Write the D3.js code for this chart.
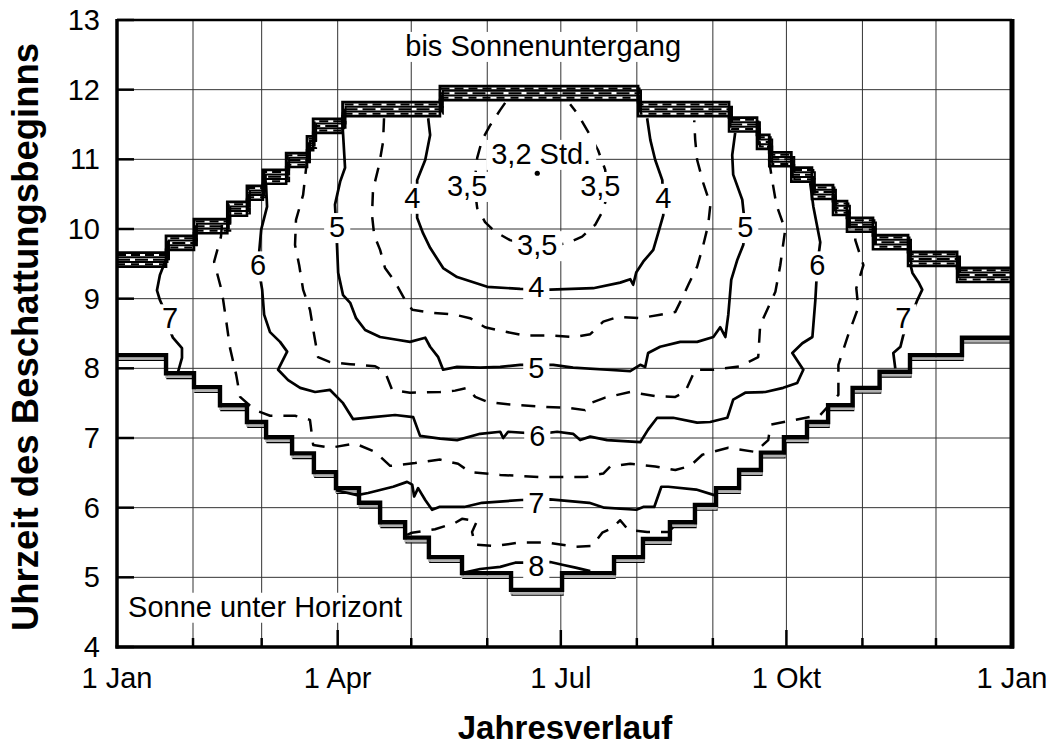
<!DOCTYPE html>
<meta charset="utf-8">
<html>
<style>
  body { margin: 0; background: #fff; }
  text { font-family: "Liberation Sans", Arial, sans-serif; fill: #000; }
  .grid line { stroke: #333; stroke-width: 1; }
  .iso { fill: none; stroke: #000; stroke-width: 2.7; stroke-linejoin: round; }
  .iso.dash { stroke-width: 2.5; stroke-dasharray: 14,11; }
</style>
<body>
<svg width="1054" height="751"></svg>
<script src="https://d3js.org/d3.v7.min.js"></script>
<script>
// month starts (day of year) and axis ticks
var monthStarts = [0, 31, 59, 90, 120, 151, 181, 212, 243, 273, 304, 334, 365];
var quarterDays = [0, 90, 181, 273, 365];
var quarterLabels = ["1 Jan", "1 Apr", "1 Jul", "1 Okt", "1 Jan"];
var hourTicks = [4, 5, 6, 7, 8, 9, 10, 11, 12, 13];

// staircase limits: [day, hour] held until the next day
var sunsetSteps = [[0,9.66],[20,9.9],[31.4,10.14],[45,10.39],[53,10.62],[59.5,10.85],[69,11.09],[77.5,11.33],[80,11.58],[92,11.82],[131.7,12.05],[212.5,11.82],[249.6,11.6],[261,11.35],[266,11.1],[275,10.88],[283.4,10.63],[292,10.4],[297.7,10.16],[308.3,9.91],[322.6,9.67],[342.6,9.44],[365,9.44]];
var sunriseSteps = [[0,8.19],[20,7.93],[31.4,7.73],[42,7.47],[53,7.23],[60.8,7.01],[71.4,6.78],[80.3,6.51],[89.3,6.28],[98.7,6.07],[107.3,5.79],[117.5,5.57],[127.2,5.29],[140.7,5.06],[160.7,4.82],[181.5,5.06],[202.7,5.29],[214.5,5.55],[225.5,5.79],[235.7,6.04],[244.3,6.28],[253.7,6.54],[262.6,6.79],[272,7.01],[281.4,7.23],[290,7.47],[300,7.72],[311,7.95],[323.4,8.19],[344.6,8.44],[365,8.44]];

// isolines of shading duration (hours), [day, hour]
var iso35 = [[158.3,11.81],[156.3,11.71],[152.2,11.49],[148.9,11.28],[146.9,11.02],[145.7,10.63],[146.9,10.30],[150.1,10.10],[154.2,9.96],[160.3,9.84],[168.5,9.77],[176.7,9.76],[184.0,9.80],[189.7,9.89],[195.0,10.06],[198.3,10.27],[199.9,10.49],[199.1,10.85],[196.2,11.13],[192.2,11.39],[188.1,11.64],[184.8,11.79]];
var iso4 = [[126.9,11.59],[127.7,11.35],[125.7,10.99],[122.4,10.70],[122.4,10.16],[124.8,9.94],[127.7,9.73],[133.0,9.44],[138.7,9.31],[151.0,9.17],[164.4,9.14],[176.7,9.13],[194.2,9.15],[205.2,9.23],[209.3,9.28],[210.5,9.20],[211.8,9.38],[214.6,9.53],[218.7,9.70],[220.7,9.94],[222.8,10.20],[222.4,10.70],[219.5,10.99],[217.5,11.28],[216.2,11.59]];
var iso45 = [[108.9,11.59],[108.5,11.25],[106.9,10.92],[104.4,10.56],[104.0,10.20],[104.9,9.91],[107.3,9.70],[109.3,9.44],[113.4,9.24],[117.5,8.98],[120.4,8.84],[127.7,8.80],[137.9,8.77],[144.0,8.72],[150.1,8.59],[156.3,8.54],[166.5,8.47],[176.7,8.47],[186.9,8.45],[193.0,8.49],[198.3,8.67],[204.4,8.74],[213.4,8.72],[221.5,8.77],[227.7,8.81],[230.5,9.01],[233.0,9.20],[236.6,9.46],[239.1,9.77],[241.1,10.06],[242.0,10.35],[239.1,10.66],[236.6,10.99],[235.8,11.28],[235.4,11.56]];
var iso5 = [[91.8,11.6],[93.0,10.88],[91.0,10.68],[88.9,10.35],[89.4,10.02],[89.8,9.70],[90.2,9.37],[92.2,9.05],[95.1,8.94],[97.5,8.72],[101.2,8.55],[107.3,8.45],[114.2,8.41],[119.5,8.38],[125.7,8.44],[127.7,8.31],[131.0,8.16],[133.0,7.98],[138.7,8.02],[148.1,8.01],[156.3,8.02],[164.4,8.05],[177.9,8.05],[186.0,8.01],[199.9,7.98],[209.3,7.96],[213.4,8.05],[215.4,8.02],[216.6,8.22],[221.5,8.31],[229.7,8.38],[236.6,8.38],[243.2,8.45],[246.0,8.59],[248.1,8.45],[249.3,8.77],[250.5,9.27],[253.0,9.56],[255.4,9.77],[256.2,10.02],[255.0,10.42],[251.3,10.78],[250.9,11.06],[252.1,11.38]];
var iso55 = [[77.5,10.99],[75.9,10.49],[73.0,10.13],[72.6,9.77],[74.3,9.48],[75.9,9.13],[78.7,8.84],[80.4,8.48],[82.0,8.16],[86.9,8.09],[95.1,8.06],[105.3,8.03],[109.3,7.95],[112.2,7.69],[119.5,7.65],[131.8,7.66],[137.9,7.68],[142.8,7.72],[146.1,7.59],[151.0,7.52],[160.3,7.48],[172.6,7.45],[184.8,7.43],[190.9,7.40],[193.0,7.50],[199.1,7.58],[209.3,7.66],[219.5,7.60],[227.7,7.59],[231.7,7.66],[235.8,7.98],[243.2,7.98],[254.2,8.03],[261.5,8.16],[262.3,8.62],[268.5,9.10],[270.5,9.48],[272.5,9.99],[268.9,10.35],[267.2,10.70],[265.6,11.06],[265.6,11.2]];
var iso6 = [[60.8,10.63],[61.2,10.32],[58.8,9.99],[57.5,9.48],[59.2,9.13],[60.0,8.77],[62.4,8.52],[66.5,8.38],[69.4,8.24],[65.7,7.98],[69.8,7.83],[74.7,7.72],[80.8,7.66],[86.9,7.69],[92.2,7.50],[96.3,7.27],[104.4,7.30],[113.4,7.33],[120.8,7.30],[123.6,7.03],[131.8,6.99],[138.7,6.97],[148.1,7.06],[156.3,7.09],[157.5,7.00],[159.5,7.09],[172.6,7.06],[179.5,7.09],[186.0,7.06],[188.9,6.97],[193.0,7.02],[199.9,6.97],[213.4,6.94],[216.6,7.12],[220.3,7.29],[226.8,7.29],[236.6,7.22],[241.9,7.23],[248.9,7.29],[251.3,7.55],[256.2,7.65],[264.4,7.66],[271.7,7.72],[277.4,7.79],[279.9,7.98],[275.4,8.22],[279.5,8.36],[283.6,8.45],[284.8,8.98],[285.6,9.48],[286.8,9.81],[284.0,10.32],[282.7,10.66]];
var iso65 = [[42.8,10.06],[42.4,9.89],[39.6,9.53],[42.8,9.10],[44.5,8.69],[46.1,8.29],[48.6,7.91],[50.2,7.59],[56.3,7.40],[62.4,7.32],[72.6,7.32],[78.7,7.26],[80.0,6.90],[86.9,6.86],[97.1,6.92],[105.3,6.80],[111.4,6.60],[121.6,6.64],[131.8,6.69],[139.1,6.63],[144.0,6.51],[156.3,6.47],[172.6,6.44],[191.0,6.44],[198.3,6.49],[201.1,6.59],[209.3,6.63],[219.5,6.59],[227.7,6.54],[233.8,6.60],[238.7,6.76],[249.3,6.86],[260.3,6.80],[265.6,6.97],[266.5,7.19],[277.9,7.27],[286.8,7.33],[294.2,7.62],[294.2,8.05],[298.2,8.48],[302.3,8.87],[301.5,9.15],[304.4,9.48],[301.1,9.84],[301.1,9.94]];
var iso7West = [[20.4,9.6],[17.5,9.34],[16.3,9.12],[17.5,8.98],[18.4,8.91],[20.8,8.62],[22.8,8.44],[26.5,8.29],[26.5,8.15],[24.9,7.95]];
var iso7 = [[89.3,6.25],[97.9,6.18],[102.4,6.21],[112.6,6.30],[118.3,6.37],[120.4,6.33],[121.2,6.16],[122.8,6.28],[125.7,6.11],[128.5,5.97],[131.4,6.01],[141.6,6.01],[148.9,6.07],[164.8,6.11],[176.7,6.12],[192.6,6.07],[198.7,6.00],[211.8,5.97],[214.6,6.01],[219.1,6.01],[222.0,6.30],[224.8,6.30],[236.2,6.26],[243.6,6.18]];
var iso7East = [[317.4,8.00],[316.6,8.22],[319.5,8.31],[320.7,8.48],[323.5,8.72],[326.4,8.98],[328.4,9.13],[326.8,9.24],[324.4,9.37],[323.5,9.5]];
var iso75 = [[118.3,5.61],[120.3,5.64],[129.7,5.69],[137.8,5.78],[140.7,5.84],[146.8,5.81],[144.8,5.65],[146.0,5.47],[154.2,5.45],[164.4,5.50],[175.4,5.50],[186.9,5.44],[193.8,5.45],[197.9,5.64],[202.0,5.71],[205.2,5.82],[208.5,5.68],[216.2,5.65],[224.8,5.65],[227.7,5.75]];
var iso8 = [[140.8,5.06],[148.1,5.12],[156.3,5.15],[162.4,5.21],[168.5,5.21],[176.7,5.22],[181.6,5.18],[187.0,5.14],[193.0,5.09]];

// labels: [day, hour, text]
var isoLabels = [[173.0,11.08,"3,2 Std."],[142.8,10.62,"3,5"],[197.1,10.62,"3,5"],[171.4,9.77,"3,5"],
  [120.4,10.45,"4"],[222.8,10.45,"4"],[171.0,9.17,"4"],
  [89.8,10.03,"5"],[256.2,10.03,"5"],[171.0,8.01,"5"],
  [57.5,9.48,"6"],[285.6,9.48,"6"],[171.4,7.03,"6"],
  [21.6,8.72,"7"],[320.7,8.72,"7"],[171.0,6.07,"7"],
  [171.0,5.16,"8"]];
var minPoint = [171.4, 10.80];
var notes = [[173.8,12.63,"bis Sonnenuntergang"],[60.4,4.58,"Sonne unter Horizont"]];

var svg = d3.select("svg"),
    plotL = 117, plotR = 1012, plotT = 20, plotB = 647;

var x = d3.scaleLinear().domain([0, 365]).range([plotL, plotR]);
var y = d3.scaleLinear().domain([4, 13]).range([plotB, plotT]);

// grid
var grid = svg.append("g").attr("class", "grid");
grid.selectAll(".v").data(monthStarts.slice(1, -1)).enter().append("line")
    .attr("x1", d => x(d)).attr("x2", d => x(d)).attr("y1", plotT).attr("y2", plotB);
grid.selectAll(".h").data(hourTicks.slice(1, -1)).enter().append("line")
    .attr("x1", plotL).attr("x2", plotR).attr("y1", d => y(d)).attr("y2", d => y(d));

var line = d3.line().x(d => x(d[0])).y(d => y(d[1]));
var step = d3.line().x(d => x(d[0])).y(d => y(d[1])).curve(d3.curveStepAfter);

function shifted(steps, dh, dd) {
  return steps.map((d, i) => [i === 0 || i === steps.length - 1 ? d[0] : d[0] + dd, d[1] + dh]);
}

// sunset bundle: several nearly coincident lines
var sunsetBundle = [[0, 2.8, null], [-0.033, 2.0, "9,5"], [-0.066, 2.0, null], [-0.1, 2.0, "13,5"],
                    [-0.133, 2.0, null], [-0.166, 2.0, "8,6"], [-0.2, 2.6, null]];
sunsetBundle.forEach(function(b, i) {
  svg.append("path").attr("d", step(shifted(sunsetSteps, b[0], (i % 3) * 0.6)))
    .attr("fill", "none").attr("stroke", "#000").attr("stroke-width", b[1])
    .attr("stroke-dasharray", b[2]);
});

// sunrise bundle
svg.append("path").attr("d", step(shifted(sunriseSteps, -0.075, 0.4)))
  .attr("fill", "none").attr("stroke", "#000").attr("stroke-width", 1.4);
svg.append("path").attr("d", step(shifted(sunriseSteps, -0.05, 0.2)))
  .attr("fill", "none").attr("stroke", "#b0b0b0").attr("stroke-width", 2.5);
svg.append("path").attr("d", step(sunriseSteps))
  .attr("fill", "none").attr("stroke", "#000").attr("stroke-width", 4.4);

// isolines
var solid = [iso4, iso5, iso6, iso7West, iso7, iso7East, iso8];
var dashed = [iso35, iso45, iso55, iso65, iso75];
svg.selectAll(".solid").data(solid).enter().append("path")
    .attr("class", "iso").attr("d", line);
svg.selectAll(".dashed").data(dashed).enter().append("path")
    .attr("class", "iso dash").attr("d", line);

svg.append("circle").attr("cx", x(minPoint[0])).attr("cy", y(minPoint[1])).attr("r", 2.6);

// labels with white knock-out
function addLabel(d, pad) {
  var g = svg.append("g");
  var t = g.append("text")
    .attr("x", x(d[0])).attr("y", y(d[1]))
    .attr("dy", "0.35em").attr("text-anchor", "middle")
    .style("font-size", "29px").text(d[2]);
  var bb = t.node().getBBox();
  g.insert("rect", "text")
    .attr("x", bb.x - pad).attr("y", bb.y + 2).attr("width", bb.width + 2 * pad).attr("height", bb.height - 2)
    .attr("fill", "#fff");
}
isoLabels.forEach(d => addLabel(d, 5));
notes.forEach(d => addLabel(d, 4));

// frame
svg.append("line").attr("x1", plotL).attr("x2", plotR).attr("y1", plotT).attr("y2", plotT)
  .attr("stroke", "#000").attr("stroke-width", 2.5);
svg.append("line").attr("x1", plotL).attr("x2", plotL).attr("y1", plotT - 1).attr("y2", plotB + 1.5)
  .attr("stroke", "#000").attr("stroke-width", 3.5);
svg.append("line").attr("x1", plotL - 1.5).attr("x2", plotR + 2).attr("y1", plotB).attr("y2", plotB)
  .attr("stroke", "#000").attr("stroke-width", 3.5);
svg.append("line").attr("x1", plotR).attr("x2", plotR).attr("y1", plotT - 1).attr("y2", plotB + 1.5)
  .attr("stroke", "#000").attr("stroke-width", 5);

// ticks
svg.selectAll(".yt").data(hourTicks).enter().append("line")
  .attr("x1", plotL).attr("x2", plotL + 17).attr("y1", d => y(d)).attr("y2", d => y(d))
  .attr("stroke", "#000").attr("stroke-width", 2.5);
svg.selectAll(".xt").data(monthStarts).enter().append("line")
  .attr("x1", d => x(d)).attr("x2", d => x(d)).attr("y1", plotB)
  .attr("y2", d => plotB - (quarterDays.indexOf(d) >= 0 ? 17 : 9))
  .attr("stroke", "#000").attr("stroke-width", 2.5);

svg.selectAll(".yl").data(hourTicks).enter().append("text")
  .attr("x", plotL - 17).attr("y", d => y(d)).attr("dy", "0.35em")
  .attr("text-anchor", "end").style("font-size", "29px").text(d => d);
svg.selectAll(".xl").data(quarterDays).enter().append("text")
  .attr("x", d => x(d)).attr("y", 688).attr("text-anchor", "middle")
  .style("font-size", "29px").text((d, i) => quarterLabels[i]);

// axis titles
svg.append("text").attr("x", 565).attr("y", 739).attr("text-anchor", "middle")
  .style("font-size", "33px").style("font-weight", "bold").text("Jahresverlauf");
svg.append("text").attr("transform", "translate(38,337) rotate(-90)")
  .attr("text-anchor", "middle")
  .style("font-size", "36.5px").style("font-weight", "bold").text("Uhrzeit des Beschattungsbeginns");
</script>
</body>
</html>
